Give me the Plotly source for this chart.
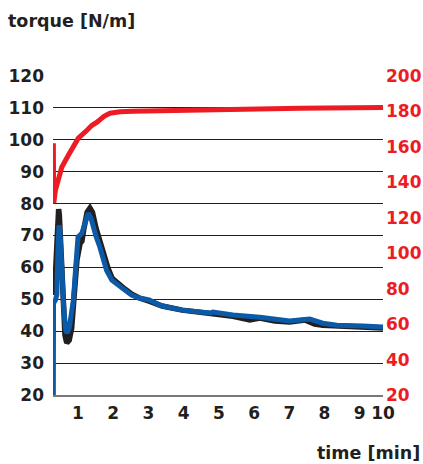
import plotly.graph_objects as go

# time [min]
t_black = [0.33, 0.38, 0.42, 0.45, 0.47, 0.52, 0.57, 0.63, 0.68, 0.75, 0.82, 0.89, 0.97, 1.06, 1.11, 1.17,
           1.26, 1.34, 1.41, 1.51, 1.62, 1.74, 1.85, 1.97, 2.14, 2.33, 2.53, 2.74, 3.02, 3.39, 3.96, 4.75,
           5.40, 5.88, 6.16, 6.59, 7.01, 7.44, 7.72, 7.95, 8.35, 8.72, 9.09, 9.66]
torque_black = [51.3, 65.4, 76.4, 78.3, 76.4, 65.4, 49.8, 38.8, 36.3, 37.2, 41.0, 49.8, 62.3, 67.6, 68.2, 72.3,
                77.3, 78.6, 77.3, 72.3, 67.9, 63.8, 59.8, 56.6, 54.8, 53.2, 51.6, 50.4, 49.4, 47.9, 46.6, 45.4,
                44.7, 43.5, 44.1, 43.2, 42.9, 43.5, 42.2, 41.9, 41.6, 41.3, 41.3, 41.0]

t_blue = [0.30, 0.305, 0.36, 0.40, 0.43, 0.46, 0.49, 0.53, 0.59, 0.65, 0.69, 0.75, 0.80, 0.87, 0.94, 1.00,
          1.11, 1.20, 1.29, 1.37, 1.43, 1.51, 1.62, 1.81, 1.96, 2.14, 2.33, 2.52, 2.74, 3.02, 3.39, 3.96,
          4.75, 4.83, 5.40, 6.16, 7.01, 7.58, 7.95, 8.35, 9.09, 9.66]
torque_blue = [20.0, 48.8, 49.8, 51.5, 65.4, 73.2, 71.0, 60.7, 48.2, 40.4, 39.4, 41.0, 45.1, 49.8, 60.7, 69.5,
               70.7, 73.9, 77.0, 75.4, 72.6, 69.8, 66.4, 59.1, 56.0, 54.4, 52.9, 51.3, 50.4, 49.8, 47.9, 46.6,
               45.7, 46.0, 45.1, 44.4, 43.2, 43.8, 42.5, 41.9, 41.6, 41.3]

t_red = [0.30, 0.31, 0.36, 0.396, 0.441, 0.538, 0.725, 1.009, 1.255, 1.397, 1.539, 1.738, 1.908, 2.191,
         2.56, 4.80, 7.30, 9.66]
temp_red = [162.1, 128.3, 135.6, 138.4, 142.9, 148.5, 155.3, 164.9, 169.4, 172.2, 173.9, 177.3, 179.0, 179.8,
            180.1, 181.0, 181.8, 182.2]

x_tickvals = [1, 2, 3, 4, 5, 6, 7, 8, 9, 9.66]
x_ticktext = ["1", "2", "3", "4", "5", "6", "7", "8", "9", "10"]
left_ticks = [20, 30, 40, 50, 60, 70, 80, 90, 100, 110, 120]
right_ticks = [20, 40, 60, 80, 100, 120, 140, 160, 180, 200]

DARK = "#231f20"
RED = "#ed1c24"
BLUE = "#0b5aa8"
FONT = "DejaVu Sans"

fig = go.Figure()
fig.add_trace(go.Scatter(x=t_black, y=torque_black, mode="lines",
                         line=dict(color=DARK, width=5.5), showlegend=False, hoverinfo="skip"))
fig.add_trace(go.Scatter(x=t_blue, y=torque_blue, mode="lines",
                         line=dict(color=BLUE, width=5), showlegend=False, hoverinfo="skip"))
fig.add_trace(go.Scatter(x=t_red, y=temp_red, mode="lines", yaxis="y2",
                         line=dict(color=RED, width=5), showlegend=False, hoverinfo="skip"))

tickfont_dark = dict(family=FONT, size=17, color=DARK, weight="bold")
tickfont_red = dict(family=FONT, size=17, color=RED, weight="bold")

fig.update_layout(
    width=423, height=464, autosize=False,
    margin=dict(l=53, r=40, t=76, b=69, autoexpand=False),
    paper_bgcolor="white", plot_bgcolor="white",
    xaxis=dict(range=[0.29, 9.66], tickvals=x_tickvals, ticktext=x_ticktext, automargin=False,
               showgrid=False, zeroline=False, showline=True, linecolor="#77787b", linewidth=2,
               ticks="", tickfont=tickfont_dark, ticklabelstandoff=2),
    yaxis=dict(range=[20, 120], tickvals=left_ticks, showgrid=True, gridcolor=DARK, gridwidth=1,
               automargin=False, zeroline=False, showline=False, ticks="", tickfont=tickfont_dark,
               ticklabelstandoff=8),
    yaxis2=dict(range=[20, 200], tickvals=right_ticks, overlaying="y", side="right", showgrid=False,
                automargin=False, zeroline=False, showline=False, ticks="", tickfont=tickfont_red,
                ticklabelstandoff=2),
    annotations=[
        dict(text="torque [N/m]", xref="paper", yref="paper", x=(6 - 53) / 330, y=(395 - 21) / 319,
             xanchor="left", yanchor="middle", showarrow=False,
             font=dict(family=FONT, size=17.5, color=DARK, weight="bold")),
        dict(text="time [min]", xref="paper", yref="paper", x=(422 - 53) / 330, y=(395 - 453) / 319,
             xanchor="right", yanchor="middle", showarrow=False,
             font=dict(family=FONT, size=17.5, color=DARK, weight="bold")),
    ],
)

fig.write_html("out.html", config={"displayModeBar": False, "responsive": False},
               post_script="document.body.style.margin='0';document.body.style.overflow='hidden';")
